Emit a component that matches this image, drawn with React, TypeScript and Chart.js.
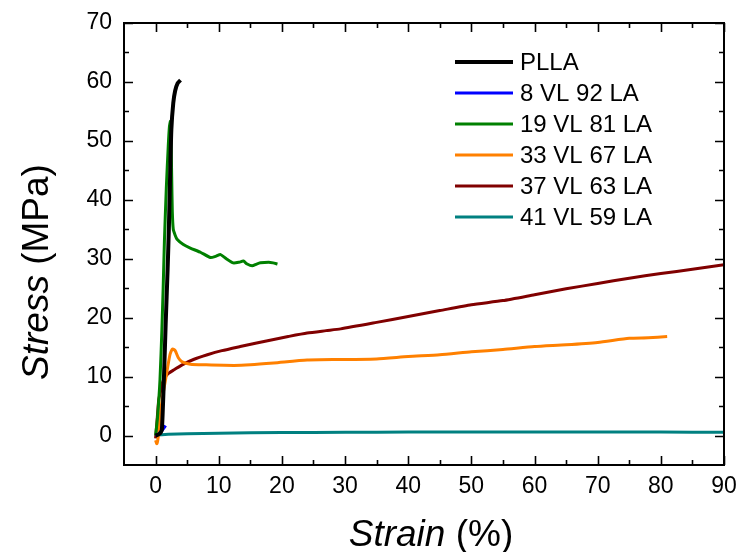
import React, { useEffect, useRef } from "react";
import { Chart, registerables } from "chart.js";
Chart.register(...registerables);

const FONT = "'Liberation Sans', Arial, Helvetica, sans-serif";

// ---- data ----
const seriesNames = ["PLLA", "8 VL 92 LA", "19 VL 81 LA", "33 VL 67 LA", "37 VL 63 LA", "41 VL 59 LA"];
const seriesColors = ["#000000", "#0000ff", "#008000", "#ff8000", "#800000", "#008080"];

const strainPLLA = [0, 0.5, 0.8, 1.0, 1.3, 1.6, 1.9, 2.1, 2.3, 2.5, 2.8, 3.1, 3.5, 3.95];
const stressPLLA = [0, 0.2, 0.5, 1, 9, 19, 28, 35, 44, 52, 56.4, 58.5, 59.8, 60.3];

const strain8VL = [0, 0.4, 0.8, 1.2, 1.6];
const stress8VL = [0, 0.2, 0.6, 1.1, 1.7];

const strain19VL = [0, 0.3, 0.7, 1.0, 1.2, 1.4, 1.7, 2.0, 2.2, 2.35, 2.45, 2.55, 2.65, 2.8, 3.1, 3.4, 4.4, 5.5, 7.1, 8.7, 9.5, 10.3, 11.2, 12.3, 13.2, 13.9, 14.5, 15.3, 16.0, 16.6, 17.9, 18.6, 19.3];
const stress19VL = [0, 3, 9.5, 18, 25, 33, 42, 49, 52.5, 53.3, 50, 44, 38, 35, 34, 33.3, 32.4, 31.8, 31.1, 30.2, 30.4, 30.7, 30.0, 29.3, 29.4, 29.6, 29.1, 28.8, 29.1, 29.3, 29.4, 29.3, 29.1];

const strain33VL = [0, 0.2, 0.45, 0.8, 1.1, 1.5, 1.9, 2.3, 2.7, 3.1, 3.6, 4.2, 5.5, 8, 12.4, 15, 18.7, 24, 29.3, 35, 40, 45, 50, 55, 60, 65, 70, 75, 78, 81];
const stress33VL = [-0.8, -1.4, 0, 4, 6.5, 9, 11.5, 13.8, 14.7, 14.4, 13.2, 12.5, 12.1, 12.0, 11.9, 12.0, 12.3, 12.8, 12.9, 13.0, 13.4, 13.7, 14.2, 14.6, 15.1, 15.4, 15.8, 16.5, 16.6, 16.8];

const strain37VL = [0, 0.2, 0.5, 0.8, 1.05, 1.5, 2.1, 3, 4.2, 6, 8.2, 10.5, 13.4, 16, 18.7, 21, 24, 27, 29.3, 35, 40, 45, 50, 55, 60, 65, 70, 75, 80, 85, 90];
const stress37VL = [-0.5, 2, 6.1, 7.5, 8.9, 9.9, 10.6, 11.2, 12, 12.9, 13.7, 14.4, 15.1, 15.7, 16.3, 16.8, 17.4, 17.8, 18.1, 19.2, 20.2, 21.2, 22.2, 22.9, 23.9, 24.9, 25.8, 26.7, 27.5, 28.2, 29.0];

const strain41VL = [0, 2, 5, 10, 20, 30, 40, 50, 60, 70, 80, 90];
const stress41VL = [0.1, 0.2, 0.3, 0.4, 0.5, 0.55, 0.6, 0.6, 0.6, 0.6, 0.6, 0.55];

const xMajorTicks = [0, 10, 20, 30, 40, 50, 60, 70, 80, 90];
const xMinorTicks = [5, 15, 25, 35, 45, 55, 65, 75, 85];
const yMajorTicks = [0, 10, 20, 30, 40, 50, 60, 70];
const yMinorTicks = [5, 15, 25, 35, 45, 55, 65];

const xTitleItalic = "Strain";
const xTitleRest = " (%)";
const yTitleItalic = "Stress";
const yTitleRest = " (MPa)";

const allStrain = [strainPLLA, strain8VL, strain19VL, strain33VL, strain37VL, strain41VL];
const allStress = [stressPLLA, stress8VL, stress19VL, stress33VL, stress37VL, stress41VL];

const framePlugin = {
  id: "frameTicks",
  afterDatasetsDraw(chart: any) {
    const { ctx, chartArea, scales } = chart;
    const { left, right, top, bottom } = chartArea;
    const x = scales.x;
    const y = scales.y;
    ctx.save();
    ctx.strokeStyle = "#000";
    ctx.lineWidth = 2;
    ctx.strokeRect(left, top, right - left, bottom - top);
    ctx.lineWidth = 1.6;
    ctx.beginPath();
    const xt = (v: number, len: number) => {
      const px = Math.round(x.getPixelForValue(v)) + 0.5;
      ctx.moveTo(px, bottom);
      ctx.lineTo(px, bottom - len);
      ctx.moveTo(px, top);
      ctx.lineTo(px, top + len);
    };
    const yt = (v: number, len: number) => {
      const py = Math.round(y.getPixelForValue(v)) + 0.5;
      ctx.moveTo(left, py);
      ctx.lineTo(left + len, py);
      ctx.moveTo(right, py);
      ctx.lineTo(right - len, py);
    };
    xMajorTicks.forEach((v) => xt(v, 9));
    xMinorTicks.forEach((v) => xt(v, 5));
    yMajorTicks.forEach((v) => yt(v, 9));
    yMinorTicks.forEach((v) => yt(v, 5));
    ctx.stroke();
    ctx.restore();
  },
};

const legendPlugin = {
  id: "customLegend",
  afterDraw(chart: any) {
    const { ctx } = chart;
    ctx.save();
    ctx.font = `24px ${FONT}`;
    ctx.textBaseline = "middle";
    ctx.textAlign = "left";
    chart.data.datasets.forEach((ds: any, i: number) => {
      const yy = 62 + i * 31;
      ctx.strokeStyle = ds.borderColor;
      ctx.lineWidth = i === 0 ? 4 : 3;
      ctx.beginPath();
      ctx.moveTo(455, yy);
      ctx.lineTo(513, yy);
      ctx.stroke();
      ctx.fillStyle = "#000";
      ctx.fillText(ds.label, 520, yy + 1);
    });
    ctx.restore();
  },
};

const titlePlugin = {
  id: "axisTitles",
  afterDraw(chart: any) {
    const { ctx } = chart;
    ctx.save();
    ctx.fillStyle = "#000";
    ctx.textBaseline = "alphabetic";
    ctx.textAlign = "left";
    const itF = `italic 37px ${FONT}`;
    const nF = `37px ${FONT}`;
    // x title
    ctx.font = itF;
    const w1 = ctx.measureText(xTitleItalic).width;
    ctx.font = nF;
    const w2 = ctx.measureText(xTitleRest).width;
    const cx = 431;
    const sx = cx - (w1 + w2) / 2;
    ctx.font = itF;
    ctx.fillText(xTitleItalic, sx, 546);
    ctx.font = nF;
    ctx.fillText(xTitleRest, sx + w1, 546);
    // y title
    ctx.translate(48, 272);
    ctx.rotate(-Math.PI / 2);
    ctx.font = itF;
    const v1 = ctx.measureText(yTitleItalic).width;
    ctx.font = nF;
    const v2 = ctx.measureText(yTitleRest).width;
    const s = -(v1 + v2) / 2;
    ctx.font = itF;
    ctx.fillText(yTitleItalic, s, 0);
    ctx.font = nF;
    ctx.fillText(yTitleRest, s + v1, 0);
    ctx.restore();
  },
};

export default function App() {
  const ref = useRef<HTMLCanvasElement>(null);
  useEffect(() => {
    document.body.style.margin = "0";
    const canvas = ref.current!;
    const datasets = seriesNames.map((name, i) => ({
      label: name,
      data: allStrain[i].map((sx, j) => ({ x: sx, y: allStress[i][j] })),
      borderColor: seriesColors[i],
      backgroundColor: seriesColors[i],
      borderWidth: i === 0 ? 4 : 3,
      pointRadius: 0,
      showLine: true,
      fill: false,
      tension: 0.2,
    }));
    const chart = new Chart(canvas, {
      type: "scatter",
      data: { datasets },
      options: {
        animation: false,
        responsive: false,
        devicePixelRatio: 1,
        layout: { padding: { top: 23, right: 15, left: 0, bottom: 0 } },
        plugins: {
          legend: { display: false },
          tooltip: { enabled: false },
        },
        scales: {
          x: {
            type: "linear",
            min: -5,
            max: 90,
            grid: { display: false, drawTicks: false },
            border: { display: false },
            afterBuildTicks: (s: any) => {
              s.ticks = xMajorTicks.map((v) => ({ value: v }));
            },
            afterFit: (s: any) => {
              s.height = 87;
              s.paddingLeft = 0;
              s.paddingRight = 0;
            },
            ticks: {
              font: { family: FONT, size: 23 },
              color: "#000",
              padding: 8,
              maxRotation: 0,
              autoSkip: false,
            },
          },
          y: {
            type: "linear",
            min: -5,
            max: 70,
            grid: { display: false, drawTicks: false },
            border: { display: false },
            afterBuildTicks: (s: any) => {
              s.ticks = yMajorTicks.map((v) => ({ value: v }));
            },
            afterFit: (s: any) => {
              s.width = 124;
              s.paddingTop = 0;
              s.paddingBottom = 0;
            },
            ticks: {
              font: { family: FONT, size: 23 },
              color: "#000",
              padding: 12,
              autoSkip: false,
            },
          },
        },
      },
      plugins: [framePlugin, legendPlugin, titlePlugin],
    } as any);
    return () => chart.destroy();
  }, []);
  return (
    <div style={{ width: 739, height: 552 }}>
      <canvas ref={ref} width={739} height={552} style={{ display: "block", width: 739, height: 552 }} />
    </div>
  );
}
